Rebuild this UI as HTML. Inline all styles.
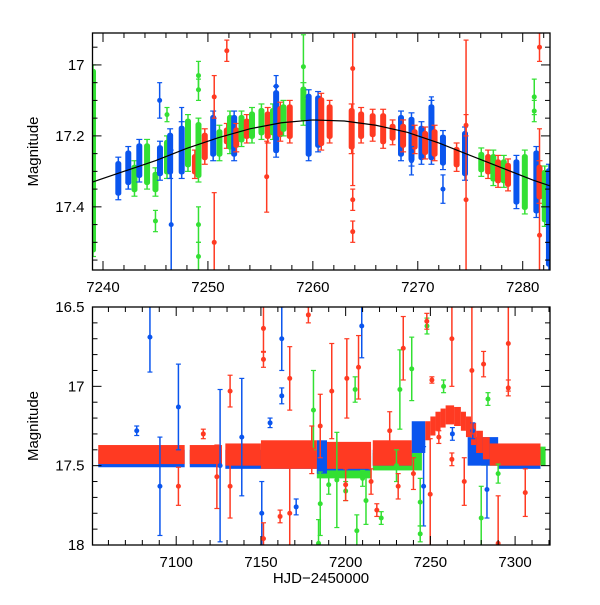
<!DOCTYPE html>
<html><head><meta charset="utf-8"><style>
body{margin:0;background:#fff}
svg text{font-family:"Liberation Sans",sans-serif;fill:#000}
</style></head><body>
<svg id="c" width="600" height="600" xmlns="http://www.w3.org/2000/svg"></svg>
<script>
// ---- top panel: dense nightly clusters [t, centerMag, halfSpread, band] ----
const topClusters=[[7239.05,17.27,.27,'green'],[7241.46,17.32,.06,'blue'],[7242.41,17.29,.06,'blue'],[7243.0,17.32,.05,'green'],[7243.46,17.27,.06,'blue'],[7244.2,17.28,.07,'green'],[7245.0,17.33,.04,'green'],[7245.43,17.27,.055,'blue'],[7246.1,17.26,.06,'green'],[7246.4,17.25,.07,'blue'],[7247.5,17.24,.08,'blue'],[7248.1,17.22,.08,'green'],[7248.76,17.28,.04,'red'],[7249.1,17.24,.09,'green'],[7249.7,17.23,.05,'red'],[7250.5,17.20,.07,'blue'],[7251.1,17.22,.05,'green'],[7251.8,17.20,.035,'red'],[7252.1,17.19,.06,'green'],[7252.5,17.20,.07,'blue'],[7252.7,17.205,.04,'red'],[7253.2,17.18,.05,'green'],[7253.7,17.18,.04,'red'],[7254.2,17.17,.05,'green'],[7255.1,17.16,.05,'green'],[7255.7,17.17,.05,'red'],[7256.2,17.16,.05,'green'],[7256.5,17.16,.10,'blue'],[7256.9,17.16,.055,'red'],[7257.2,17.15,.05,'green'],[7257.8,17.16,.06,'red'],[7259.1,17.11,.06,'green'],[7259.6,17.17,.10,'blue'],[7260.5,17.16,.085,'blue'],[7260.8,17.16,.08,'red'],[7261.6,17.16,.06,'red'],[7263.7,17.18,.07,'red'],[7264.6,17.17,.05,'red'],[7265.7,17.17,.045,'red'],[7266.7,17.18,.055,'red'],[7267.6,17.19,.035,'red'],[7268.4,17.20,.07,'blue'],[7268.6,17.20,.045,'red'],[7269.4,17.21,.075,'blue'],[7269.7,17.21,.04,'red'],[7270.35,17.22,.06,'blue'],[7270.7,17.22,.045,'red'],[7271.3,17.19,.09,'blue'],[7271.6,17.22,.05,'red'],[7272.4,17.24,.055,'blue'],[7273.7,17.26,.04,'red'],[7274.5,17.25,.075,'blue'],[7276.05,17.274,.04,'green'],[7276.7,17.28,.04,'red'],[7277.2,17.29,.05,'green'],[7277.65,17.30,.045,'red'],[7278.2,17.30,.045,'green'],[7278.6,17.31,.045,'red'],[7279.4,17.33,.075,'blue'],[7280.2,17.33,.09,'green'],[7281.3,17.33,.10,'blue'],[7281.6,17.33,.06,'red'],[7282.1,17.37,.085,'green'],[7282.5,17.43,.15,'blue']];
// ---- top panel outliers [t, mag, err] ----
const topBlue=[[7245.4,17.10,.05],[7246.5,17.45,.21],[7247.5,17.20,.08],[7256.5,17.06,.03],[7271.3,17.12,.03],[7272.4,17.35,.04],[7269.4,17.27,.04]];
const topGreen=[[7246.1,17.14,.02],[7249.1,17.03,.04],[7249.1,17.07,.03],[7249.1,17.45,.05],[7249.1,17.54,.04],[7245.0,17.44,.03],[7259.1,17.005,.09],[7281.1,17.09,.05],[7281.1,17.13,.03]];
const topRed=[[7250.6,17.09,.06],[7250.6,17.50,.14],[7251.8,16.96,.03],[7255.6,17.315,.1],[7263.8,17.01,.33],[7263.8,17.38,.03],[7263.8,17.47,.03],[7274.6,17.38,.45],[7274.6,17.17,.03],[7281.6,17.48,.3],[7281.6,16.95,.04]];
const modelT=[7239,7242,7245,7248,7251,7254,7257,7260,7263,7266,7269,7272,7275,7278,7281,7283];
const modelM=[17.33,17.30,17.27,17.235,17.205,17.18,17.163,17.155,17.158,17.17,17.19,17.22,17.255,17.29,17.325,17.345];
// ---- bottom panel outliers [t, mag, err] ----
const botBlue=[[7084.5,16.69,.22],[7090.4,17.63,.31],[7101.3,17.13,.27],[7076.7,17.28,.03],[7125.9,17.50,.48],[7138.7,17.32,.37],[7162.3,16.70,.2],[7162.3,17.06,.05],[7150.5,17.80,.2],[7170.8,17.76,.05],[7155.4,17.23,.03],[7209.5,16.62,.2],[7246.0,17.63,.25],[7283.4,17.65,.18],[7263,17.30,.04],[7275,17.28,.05]];
const botRed=[[7151.5,16.635,.15],[7151.5,16.83,.05],[7178,16.55,.05],[7131.8,17.03,.1],[7167,16.95,.2],[7191.8,17.03,.3],[7200.7,16.95,.25],[7207.6,16.88,.2],[7234,16.76,.2],[7247.9,16.59,.05],[7262.7,16.70,.3],[7274.5,16.90,.4],[7281.4,16.86,.08],[7296,16.73,.3],[7296,17.01,.05],[7250.9,16.96,.02],[7101.3,17.63,.12],[7124,17.57,.2],[7131.8,17.63,.2],[7161.3,17.82,.04],[7167,17.80,.3],[7218.4,17.78,.04],[7231,17.63,.08],[7249.9,17.68,.35],[7262.7,17.46,.04],[7290,17.99,.3],[7306,17.67,.15],[7255,17.32,.04],[7116,17.30,.03],[7151.5,17.96,.1],[7185,17.25,.2],[7200,17.62,.1],[7226,17.28,.12],[7215,17.60,.08],[7240,17.55,.1],[7180,17.40,.15],[7270,17.60,.15]];
const botGreen=[[7248,16.62,.05],[7239,16.89,.2],[7232,17.02,.25],[7181,17.15,.25],[7185,17.74,.2],[7205.6,17.02,.08],[7206.6,17.91,.1],[7221,17.83,.04],[7244,17.73,.15],[7280,17.83,.2],[7284,17.08,.04],[7257.8,17.00,.04],[7194.8,17.59,.3],[7212,17.72,.15],[7244,17.93,.05],[7184,17.99,.15],[7230,17.50,.1],[7290,17.55,.06],[7190,17.62,.06],[7200,17.66,.06],[7210,17.58,.05]];
// dense scatter envelopes [tStart, tEnd, magLow, magHigh]
const bandGreen=[[7183,7215,17.44,17.58],[7216,7245,17.42,17.53],[7280,7318,17.38,17.50]];
const bandBlue=[[7054,7105,17.40,17.51],[7108,7127,17.40,17.51],[7129,7183,17.40,17.52],[7183,7189,17.34,17.55],[7189,7215,17.40,17.53],[7216,7239,17.40,17.50],[7239,7247,17.22,17.42],[7272,7290,17.32,17.50],[7290,7315,17.42,17.52]];
const bandRed=[[7054,7105,17.37,17.49],[7108,7127,17.37,17.49],[7129,7150,17.36,17.50],[7150,7183,17.34,17.52],[7189,7215,17.35,17.52],[7216,7239,17.34,17.50],[7247,7250,17.22,17.34],[7250,7253,17.19,17.31],[7253,7256,17.16,17.28],[7256,7259,17.14,17.26],[7259,7264,17.12,17.24],[7264,7268,17.13,17.25],[7268,7271,17.16,17.28],[7271,7274,17.19,17.32],[7274,7277,17.23,17.37],[7277,7281,17.28,17.42],[7281,7285,17.32,17.46],[7285,7315,17.36,17.50]];

const C={blue:'#0a55ee',green:'#33e033',red:'#ff3a22'};
const svg=document.getElementById('c');
const NS='http://www.w3.org/2000/svg';
function mk(tag,attrs,parent){const e=document.createElementNS(NS,tag);for(const k in attrs)e.setAttribute(k,attrs[k]);(parent||svg).appendChild(e);return e;}

function panel(P){
  const sx=t=>P.x0+(t-P.t0)/(P.t1-P.t0)*(P.x1-P.x0);
  const sy=m=>P.y0+(m-P.m0)/(P.m1-P.m0)*(P.y1-P.y0);
  const g=mk('g',{});
  
  
  const clipId=P.name+'-clip';
  const cp=mk('clipPath',{id:clipId},g);
  mk('rect',{x:P.x0,y:P.y0,width:P.x1-P.x0,height:P.y1-P.y0},cp);
  const d=mk('g',{'clip-path':'url(#'+clipId+')'},g);
  
  
  function pt(p,col){
    const x=sx(p[0]),y=sy(p[1]),e1=sy(p[1]-p[2]),e2=sy(p[1]+p[2]);
    const s=mk('g',{},d);
    
    
    mk('line',{x1:x,x2:x,y1:e1,y2:e2,stroke:C[col],'stroke-width':1.5},s);
    mk('line',{x1:x-2.5,x2:x+2.5,y1:e1,y2:e1,stroke:C[col],'stroke-width':1.2},s);
    mk('line',{x1:x-2.5,x2:x+2.5,y1:e2,y2:e2,stroke:C[col],'stroke-width':1.2},s);
    mk('circle',{cx:x,cy:y,r:2.5,fill:C[col]},s);
  }
  (P.bands||[]).forEach(([b,col])=>b.forEach(r=>{
    const e=mk('rect',{x:sx(r[0]),y:sy(r[2]),width:sx(r[1])-sx(r[0]),height:sy(r[3])-sy(r[2]),fill:C[col]},d);
    
    
  }));
  (P.clusters||[]).forEach(c=>{
    const x=sx(c[0]),col=C[c[3]],top=sy(c[1]-c[2]),bot=sy(c[1]+c[2]);
    const s=mk('g',{},d);
    
    
    mk('line',{x1:x,x2:x,y1:top,y2:bot,stroke:col,'stroke-width':1.5},s);
    mk('line',{x1:x-3,x2:x+3,y1:top,y2:top,stroke:col,'stroke-width':1.2},s);
    mk('line',{x1:x-3,x2:x+3,y1:bot,y2:bot,stroke:col,'stroke-width':1.2},s);
    mk('rect',{x:x-3,y:top+4,width:6,height:Math.max(1,bot-top-8),rx:2.5,fill:col},s);
  });
  P.series.forEach(([arr,col])=>arr.forEach(p=>pt(p,col)));
  if(P.model){
    const pts=P.model[0].map((t,i)=>sx(t)+','+sy(P.model[1][i])).join(' ');
    const pl=mk('polyline',{points:pts,fill:'none',stroke:'#000','stroke-width':1.2},d);
    
    
  }
  mk('rect',{x:P.x0,y:P.y0,width:P.x1-P.x0,height:P.y1-P.y0,fill:'none',stroke:'#000','stroke-width':1.3},g);
  for(let t=Math.ceil(P.t0/P.xmin)*P.xmin;t<=P.t1;t+=P.xmin){
    const x=sx(t),maj=Math.abs(t/P.xmaj-Math.round(t/P.xmaj))<1e-6,L=maj?9:5;
    mk('line',{x1:x,x2:x,y1:P.y1,y2:P.y1-L,stroke:'#000'},g);
    mk('line',{x1:x,x2:x,y1:P.y0,y2:P.y0+L,stroke:'#000'},g);
    if(maj){const tx=mk('text',{x:x,y:P.y1+22,'text-anchor':'middle','font-size':15},g);tx.textContent=t;
      }
  }
  for(let k=0;;k++){
    const m=P.mTickStart+k*P.ymin; if(m>P.m1+1e-9)break; if(m<P.m0-1e-9)continue;
    const y=sy(m),maj=Math.abs(m/P.ymaj-Math.round(m/P.ymaj))<1e-6,L=maj?9:5;
    mk('line',{x1:P.x0,x2:P.x0+L,y1:y,y2:y,stroke:'#000'},g);
    mk('line',{x1:P.x1,x2:P.x1-L,y1:y,y2:y,stroke:'#000'},g);
    if(maj){const tx=mk('text',{x:P.x0-8,y:y+5,'text-anchor':'end','font-size':15},g);tx.textContent=+m.toFixed(2);
      }
  }
  const yl=mk('text',{x:0,y:0,transform:'translate(38,'+((P.y0+P.y1)/2)+') rotate(-90)','text-anchor':'middle','font-size':15},g);
  yl.textContent='Magnitude';
  
  
}
panel({name:'top-panel',x0:92.5,x1:550,y0:33,y1:270,t0:7239,t1:7282.6,m0:16.91,m1:17.578,
  xmaj:10,xmin:2,ymaj:0.2,ymin:0.05,mTickStart:16.8,
  clusters:topClusters,
  series:[[topBlue,'blue'],[topGreen,'green'],[topRed,'red']],model:[modelT,modelM]});
panel({name:'bottom-panel',x0:92.5,x1:550,y0:307,y1:545,t0:7050.6,t1:7320.6,m0:16.5,m1:18,
  xmaj:50,xmin:10,ymaj:0.5,ymin:0.1,mTickStart:16.5,
  bands:[[bandGreen,'green'],[bandBlue,'blue'],[bandRed,'red']],
  series:[[botBlue,'blue'],[botGreen,'green'],[botRed,'red']]});
const xl=mk('text',{x:321,y:583,'text-anchor':'middle','font-size':15});
xl.textContent='HJD\u22122450000';


</script>
</body></html>
